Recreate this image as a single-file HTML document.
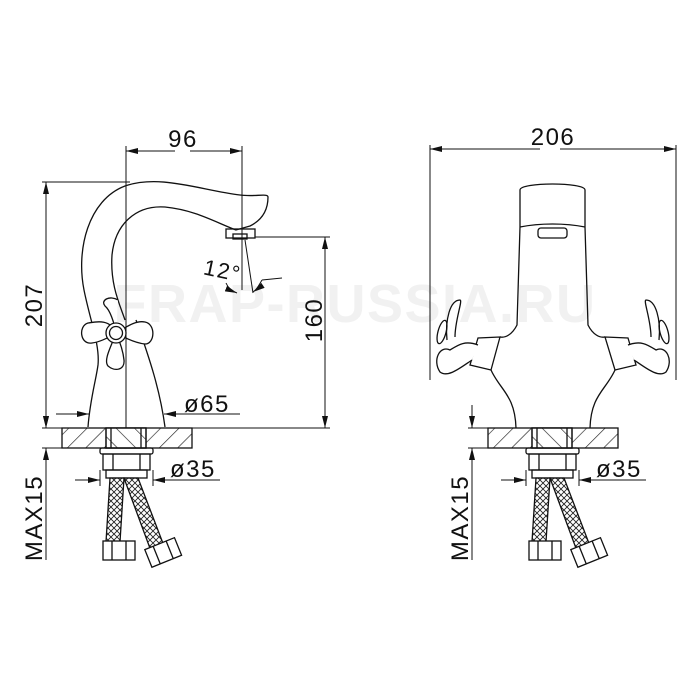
<!DOCTYPE html>
<html><head><meta charset="utf-8"><style>
html,body{margin:0;padding:0;background:#fff;}
svg{display:block;}
text{font-family:"Liberation Sans",sans-serif;fill:#111;letter-spacing:1.5px;}
</style></head><body>
<svg width="700" height="700" viewBox="0 0 700 700" xmlns="http://www.w3.org/2000/svg">
<defs>
<pattern id="hatch" width="13" height="13" patternUnits="userSpaceOnUse" patternTransform="rotate(45)">
<line x1="0" y1="0" x2="0" y2="13" stroke="#222" stroke-width="1.3"/>
</pattern>
<pattern id="hatch2" width="13" height="13" patternUnits="userSpaceOnUse" patternTransform="rotate(-45)">
<line x1="0" y1="0" x2="0" y2="13" stroke="#222" stroke-width="1.3"/>
</pattern>
<pattern id="braid" width="6" height="6" patternUnits="userSpaceOnUse">
<path d="M0 0L6 6M6 0L0 6" stroke="#222" stroke-width="0.9"/>
</pattern>
<marker id="ar" markerWidth="12" markerHeight="6" refX="12" refY="3" orient="auto" markerUnits="userSpaceOnUse">
<path d="M0 0L12 3L0 6z" fill="#111"/>
</marker>
<g id="bottom" fill="none" stroke="#111" stroke-width="1.3">
<rect x="62" y="428" width="130" height="20" fill="url(#hatch)"/>
<rect x="106" y="428" width="40" height="20" fill="#fff"/>
<rect x="106" y="428" width="40" height="20" fill="url(#hatch2)"/>
<line x1="111" y1="428" x2="111" y2="448"/><line x1="141" y1="428" x2="141" y2="448"/>
<rect x="100" y="448" width="53" height="6" rx="2"/>
<rect x="103" y="454" width="47" height="16"/>
<line x1="113" y1="454" x2="113" y2="470"/><line x1="140" y1="454" x2="140" y2="470"/>
<rect x="106" y="470" width="41" height="8"/>
<polygon points="110,478 124,478 120,542 106,542" fill="url(#braid)"/>
<polygon points="124,478 138,478 164,546 151,551" fill="url(#braid)"/>
<rect x="103" y="541" width="32" height="19" fill="#fff"/>
<line x1="112" y1="541" x2="112" y2="560"/><line x1="126" y1="541" x2="126" y2="560"/>
<g transform="rotate(-22 163 552)">
<rect x="147" y="543" width="32" height="19" fill="#fff"/>
<line x1="156" y1="543" x2="156" y2="562"/><line x1="170" y1="543" x2="170" y2="562"/>
</g>
<line x1="42" y1="428" x2="62" y2="428" stroke-width="1"/>
<line x1="42" y1="448" x2="62" y2="448" stroke-width="1"/>
<line x1="46" y1="405" x2="46" y2="428" stroke-width="1" marker-end="url(#ar)"/>
<line x1="46" y1="470" x2="46" y2="448" stroke-width="1" marker-end="url(#ar)"/>
<line x1="46" y1="470" x2="46" y2="560" stroke-width="1"/>
<line x1="75" y1="480" x2="100" y2="480" stroke-width="1" marker-end="url(#ar)"/>
<line x1="220" y1="480" x2="153" y2="480" stroke-width="1" marker-end="url(#ar)"/>
<line x1="100" y1="470" x2="100" y2="486" stroke-width="1"/>
<line x1="153" y1="470" x2="153" y2="486" stroke-width="1"/>
</g>
</defs>

<text x="355" y="322" font-size="54" font-weight="bold" text-anchor="middle" style="fill:#f1f1f1">FRAP-RUSSIA.RU</text>

<use href="#bottom"/>
<g fill="none" stroke="#111" stroke-width="1.3">
<path d="M88 427 C90 400 96 380 98 365 C100 345 90 320 84 290 C76 250 88 200 125 186 C160 174 200 190 240 195 C255 197 268 193 268 197 C268 210 262 220 250 226 L236 230 C215 222 195 210 165 207 C135 205 115 225 112 255 C110 285 120 305 125 320"/>
<path d="M136 320 C150 360 160 390 165 427"/>
<rect x="226" y="229" width="29" height="9"/>
<rect x="233" y="234" width="14" height="5"/>
<path d="M116 333 C110 318 95 322 88 323 C78 326 80 345 92 343 C100 342 108 338 116 333 C112 345 103 360 108 366 C115 372 125 370 124 360 C123 350 120 342 116 333 C125 338 135 343 145 344 C155 344 156 324 145 322 C135 320 125 328 116 333 C114 322 110 310 105 306 C100 300 110 295 118 300" fill="#fff"/>
<circle cx="116" cy="333" r="10" fill="#fff"/>
<circle cx="116" cy="333" r="6.5"/>
</g>
<g fill="none" stroke="#111" stroke-width="1">
<line x1="126" y1="146" x2="126" y2="428"/>
<line x1="242" y1="146" x2="242" y2="290"/>
<line x1="175" y1="151" x2="126" y2="151" marker-end="url(#ar)"/>
<line x1="190" y1="151" x2="242" y2="151" marker-end="url(#ar)"/>
<line x1="42" y1="182" x2="130" y2="182"/>
<line x1="46" y1="300" x2="46" y2="182" marker-end="url(#ar)"/>
<line x1="46" y1="300" x2="46" y2="428" marker-end="url(#ar)"/>
<line x1="42" y1="428" x2="330" y2="428"/>
<line x1="255" y1="237" x2="330" y2="237"/>
<line x1="325" y1="330" x2="325" y2="237" marker-end="url(#ar)"/>
<line x1="325" y1="330" x2="325" y2="428" marker-end="url(#ar)"/>
<line x1="245" y1="240" x2="253" y2="293"/>
<path d="M262 280 C258 287 256 290 253 292" marker-end="url(#ar)"/>
<line x1="262" y1="280" x2="282" y2="278"/>
<path d="M226 283 C228 288 232 291 237 293" marker-end="url(#ar)"/>
<line x1="56" y1="414" x2="89" y2="414" marker-end="url(#ar)"/>
<line x1="240" y1="414" x2="164" y2="414" marker-end="url(#ar)"/>
</g>
<text x="183" y="147" font-size="24" text-anchor="middle">96</text>
<text transform="translate(42 305) rotate(-90)" font-size="24" text-anchor="middle">207</text>
<text transform="translate(322 320) rotate(-90)" font-size="24" text-anchor="middle">160</text>
<text transform="translate(221 278) rotate(12)" font-size="22" text-anchor="middle">12°</text>
<text x="184" y="412" font-size="24">ø65</text>
<text x="170" y="477" font-size="24">ø35</text>
<text transform="translate(42 518) rotate(-90)" font-size="24" text-anchor="middle">MAX15</text>

<use href="#bottom" transform="translate(426 0)"/>
<g fill="none" stroke="#111" stroke-width="1.3">
<path d="M520 227 L520 190 C520 182 585 182 585 190 L585 227"/>
<path d="M520 227 C540 223 565 223 585 227"/>
<rect x="538" y="228" width="29" height="10" rx="3"/>
<path d="M520 227 L517 325 C512 335 505 338 500 337"/>
<path d="M585 227 L588 325 C593 335 600 338 605 337"/>
<path d="M491 370 C500 390 515 395 516 428"/>
<path d="M615 370 C606 390 591 395 590 428"/>
<path d="M500 337 L478 338 L470 365 L491 370 Z" fill="#fff"/>
<path d="M478 345 C465 340 458 345 450 350 C440 345 432 360 440 372 C448 378 460 368 472 360" fill="#fff"/>
<path d="M455 337 C455 320 463 300 460 300 C450 300 445 320 447 340" fill="#fff"/>
<ellipse cx="442" cy="332" rx="4" ry="12" transform="rotate(15 442 332)"/>
<path d="M605 337 L628 338 L636 365 L615 370 Z" fill="#fff"/>
<path d="M628 345 C641 340 648 345 656 350 C666 345 674 360 666 372 C658 378 646 368 634 360" fill="#fff"/>
<path d="M651 337 C651 320 643 300 646 300 C656 300 661 320 659 340" fill="#fff"/>
<ellipse cx="664" cy="332" rx="4" ry="12" transform="rotate(-15 664 332)"/>
</g>
<g fill="none" stroke="#111" stroke-width="1">
<line x1="430" y1="145" x2="430" y2="380"/>
<line x1="676" y1="145" x2="676" y2="380"/>
<line x1="540" y1="149" x2="430" y2="149" marker-end="url(#ar)"/>
<line x1="560" y1="149" x2="676" y2="149" marker-end="url(#ar)"/>
</g>
<text x="553" y="145" font-size="24" text-anchor="middle">206</text>
<text x="596" y="477" font-size="24">ø35</text>
<text transform="translate(468 518) rotate(-90)" font-size="24" text-anchor="middle">MAX15</text>
</svg>
</body></html>
